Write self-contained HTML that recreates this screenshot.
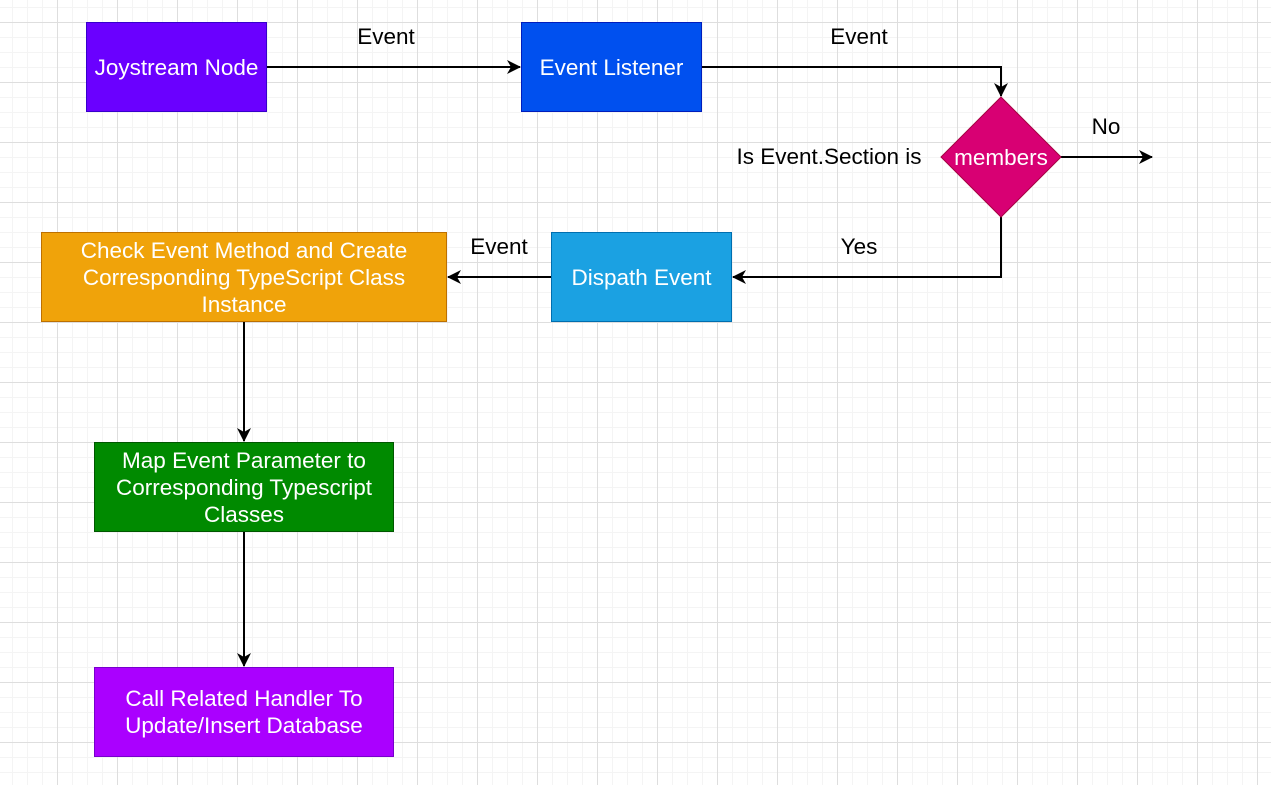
<!DOCTYPE html>
<html><head><style>
body{margin:0;width:1271px;height:785px;overflow:hidden;background:#fff;font-family:"Liberation Sans",Arial,sans-serif;}
.grid{position:absolute;left:0;top:0;width:1271px;height:785px;
background-image:
linear-gradient(to right,#dedede 1px,transparent 1px),
linear-gradient(to bottom,#dedede 1px,transparent 1px),
linear-gradient(to right,#f4f4f4 1px,transparent 1px),
linear-gradient(to bottom,#f4f4f4 1px,transparent 1px);
background-size:60px 60px,60px 60px,15px 15px,15px 15px;
background-position:-3px 22px,-3px 22px,-3px 22px,-3px 22px;}
.b{position:absolute;box-sizing:border-box;display:flex;align-items:center;justify-content:center;text-align:center;color:#fff;font-size:22.5px;line-height:27px;border:1px solid;}
.t{position:absolute;font-size:22.5px;color:#000;transform:translate(-50%,-50%);white-space:nowrap;}
</style></head><body>
<div class="grid"></div>
<svg width="1271" height="785" style="position:absolute;left:0;top:0">
<defs><marker id="a" markerWidth="16" markerHeight="16" refX="13" refY="7" orient="auto" markerUnits="userSpaceOnUse"><path d="M0,0 L14,7 L0,14 L4,7 z" fill="#000"/></marker></defs>
<g stroke="#000" stroke-width="2" fill="none">
<path d="M267,67 H520" marker-end="url(#a)"/>
<path d="M702,67 H1001 V96" marker-end="url(#a)"/>
<path d="M1061,157 H1152" marker-end="url(#a)"/>
<path d="M1001,217 V277 H733" marker-end="url(#a)"/>
<path d="M551,277 H448" marker-end="url(#a)"/>
<path d="M244,322 V441" marker-end="url(#a)"/>
<path d="M244,532 V666" marker-end="url(#a)"/>
</g>
<polygon points="1001,97 1061,157 1001,217 941,157" fill="#d80073" stroke="#a50040"/>
<text x="1001" y="165" fill="#fff" font-size="22.5" text-anchor="middle" font-family="Liberation Sans, sans-serif">members</text>
</svg>
<div class="b" style="left:86px;top:22px;width:181px;height:90px;background:#6a00ff;border-color:#3700cc">Joystream Node</div>
<div class="b" style="left:521px;top:22px;width:181px;height:90px;background:#0050ef;border-color:#001dbc">Event Listener</div>
<div class="b" style="left:551px;top:232px;width:181px;height:90px;background:#1ba1e2;border-color:#006eaf">Dispath Event</div>
<div class="b" style="left:41px;top:232px;width:406px;height:90px;background:#f0a30a;border-color:#bd7000">Check Event Method and Create<br>Corresponding TypeScript Class<br>Instance</div>
<div class="b" style="left:94px;top:442px;width:300px;height:90px;background:#008a00;border-color:#005700">Map Event Parameter to<br>Corresponding Typescript<br>Classes</div>
<div class="b" style="left:94px;top:667px;width:300px;height:90px;background:#aa00ff;border-color:#7700cc">Call Related Handler To<br>Update/Insert Database</div>
<div class="t" style="left:386px;top:37px">Event</div>
<div class="t" style="left:859px;top:37px">Event</div>
<div class="t" style="left:1106px;top:127px">No</div>
<div class="t" style="left:829px;top:157px">Is Event.Section is</div>
<div class="t" style="left:859px;top:247px">Yes</div>
<div class="t" style="left:499px;top:247px">Event</div>
</body></html>
